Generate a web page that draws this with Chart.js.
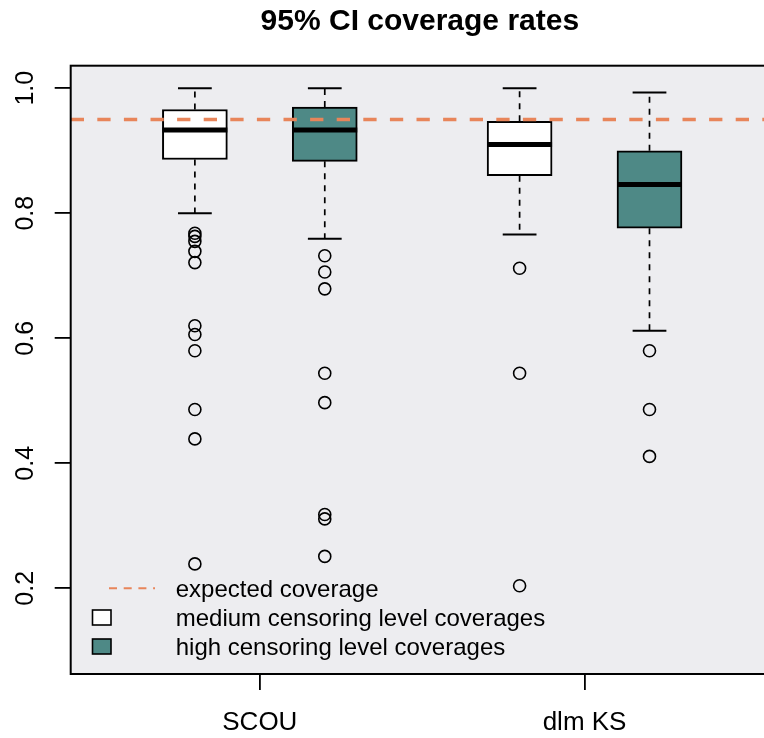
<!DOCTYPE html>
<html>
<head>
<meta charset="utf-8">
<title>95% CI coverage rates</title>
<script src="https://cdn.jsdelivr.net/npm/chart.js@4.4.1/dist/chart.umd.min.js"></script>
<style>
  html, body { margin: 0; padding: 0; background: #fff; overflow: hidden; }
  #wrap { position: relative; width: 780px; height: 738px; }
</style>
</head>
<body>
<div id="wrap"><canvas id="chart"></canvas></div>
<script>
// groups on the x axis and the two censoring levels inside each group
const groups = ['SCOU', 'dlm KS']
const levels = ['medium censoring level coverages', 'high censoring level coverages']

// box statistics, order: SCOU medium, SCOU high, dlm KS medium, dlm KS high
const lowerWhisker = [0.800, 0.759, 0.766, 0.612]
const lowerQuartile = [0.886, 0.883, 0.860, 0.776]
const medians = [0.933, 0.933, 0.910, 0.846]
const upperQuartile = [0.966, 0.970, 0.947, 0.900]
const upperWhisker = [1.000, 1.000, 1.000, 0.993]
const outliers = [
  [0.768, 0.763, 0.755, 0.739, 0.721, 0.620, 0.606, 0.580, 0.486, 0.439, 0.239],
  [0.732, 0.706, 0.679, 0.544, 0.497, 0.318, 0.311, 0.251],
  [0.712, 0.544, 0.204],
  [0.580, 0.486, 0.411]
]
const expectedCoverage = 0.95
const yTicks = [0.2, 0.4, 0.6, 0.8, 1.0]

const levelColors = ['#FFFFFF', '#4E8986']
const orange = '#E8855A'
const plotBg = '#EDEDF0'
const fontFamily = "'Liberation Sans', Arial, Helvetica, sans-serif"

// x positions: 1, 2 for the first group and 3.5, 4.5 for the second
const X_MIN = 0.044
const X_MAX = 5.42
const boxPos = []
const boxFill = []
groups.forEach((g, gi) => {
  levels.forEach((l, li) => {
    boxPos.push(1 + gi * 2.5 + li)
    boxFill.push(levelColors[li])
  })
})
const groupTicks = groups.map((g, gi) => 1.5 + gi * 2.5)

const boxData = boxPos.map((p, i) => ({ x: p, y: [lowerQuartile[i], upperQuartile[i]] }))
const outlierData = []
outliers.forEach((list, i) => {
  list.forEach(v => outlierData.push({ x: boxPos[i], y: v }))
})

const decor = {
  id: 'decor',
  beforeDraw(chart) {
    const { ctx, chartArea: a } = chart
    ctx.save()
    ctx.fillStyle = plotBg
    ctx.fillRect(a.left, a.top, a.right - a.left, a.bottom - a.top)
    ctx.restore()
  },
  afterDatasetDraw(chart, args) {
    if (args.index !== 2) return
    const { ctx } = chart
    const x = chart.scales.x
    const y = chart.scales.y
    ctx.save()
    ctx.strokeStyle = '#000'
    boxPos.forEach((p, i) => {
      const px = x.getPixelForValue(p)
      const cap = x.getPixelForValue(p + 0.13) - px
      const half = x.getPixelForValue(p + 0.25) - px
      // dashed whiskers
      ctx.lineWidth = 1.7
      ctx.setLineDash([6, 6])
      ctx.beginPath()
      ctx.moveTo(px, y.getPixelForValue(upperQuartile[i]))
      ctx.lineTo(px, y.getPixelForValue(upperWhisker[i]))
      ctx.moveTo(px, y.getPixelForValue(lowerQuartile[i]))
      ctx.lineTo(px, y.getPixelForValue(lowerWhisker[i]))
      ctx.stroke()
      // staples
      ctx.setLineDash([])
      ctx.lineWidth = 2
      ctx.beginPath()
      ctx.moveTo(px - cap, y.getPixelForValue(upperWhisker[i]))
      ctx.lineTo(px + cap, y.getPixelForValue(upperWhisker[i]))
      ctx.moveTo(px - cap, y.getPixelForValue(lowerWhisker[i]))
      ctx.lineTo(px + cap, y.getPixelForValue(lowerWhisker[i]))
      ctx.stroke()
      // median
      ctx.lineWidth = 5
      ctx.beginPath()
      ctx.moveTo(px - half, y.getPixelForValue(medians[i]))
      ctx.lineTo(px + half, y.getPixelForValue(medians[i]))
      ctx.stroke()
    })
    ctx.restore()
  },
  afterDraw(chart) {
    const { ctx, chartArea: a } = chart
    const y = chart.scales.y
    ctx.save()
    // plot frame
    ctx.strokeStyle = '#000'
    ctx.lineWidth = 2
    ctx.strokeRect(a.left, a.top, a.right - a.left, a.bottom - a.top)

    // y tick labels, rotated like R's las = 0
    ctx.fillStyle = '#000'
    ctx.font = '25px ' + fontFamily
    ctx.textAlign = 'center'
    ctx.textBaseline = 'alphabetic'
    yTicks.forEach(t => {
      ctx.save()
      ctx.translate(33, y.getPixelForValue(t))
      ctx.rotate(-Math.PI / 2)
      ctx.fillText(t.toFixed(1), 0, 0)
      ctx.restore()
    })

    // title
    ctx.font = 'bold 30px ' + fontFamily
    ctx.fillText('95% CI coverage rates', (a.left + a.right) / 2, 29.5)

    // legend
    ctx.textAlign = 'left'
    ctx.font = '24px ' + fontFamily
    ctx.strokeStyle = orange
    ctx.lineWidth = 2
    ctx.setLineDash([8, 6.7])
    ctx.beginPath()
    ctx.moveTo(109, 588.3)
    ctx.lineTo(155, 588.3)
    ctx.stroke()
    ctx.setLineDash([])
    ctx.fillText('expected coverage', 175.7, 596.6)
    levels.forEach((l, li) => {
      const cy = 617.5 + li * 29
      ctx.fillStyle = levelColors[li]
      ctx.fillRect(92.5, cy - 7.5, 18.5, 15)
      ctx.strokeStyle = '#000'
      ctx.lineWidth = 1.6
      ctx.strokeRect(92.5, cy - 7.5, 18.5, 15)
      ctx.fillStyle = '#000'
      ctx.fillText(l, 175.7, 625.6 + li * 29)
    })
    ctx.restore()
  }
}

Chart.defaults.font.family = fontFamily
Chart.defaults.color = '#000'

// eslint-disable-next-line no-unused-vars
const boxChart = new Chart(document.getElementById('chart'), {
  type: 'bar',
  data: {
    datasets: [
      {
        type: 'line',
        label: 'expected coverage',
        data: [{ x: X_MIN, y: expectedCoverage }, { x: X_MAX, y: expectedCoverage }],
        borderColor: orange,
        borderWidth: 3.6,
        borderDash: [13.3, 13.3],
        pointRadius: 0,
        fill: false,
        order: 0
      },
      {
        type: 'scatter',
        label: 'outliers',
        data: outlierData,
        pointStyle: 'circle',
        pointRadius: 6,
        pointBorderWidth: 1.6,
        borderColor: '#000',
        backgroundColor: 'rgba(0,0,0,0)',
        order: 1
      },
      {
        type: 'bar',
        label: 'boxes',
        data: boxData,
        backgroundColor: boxFill,
        borderColor: '#000',
        borderWidth: 2,
        borderSkipped: false,
        barThickness: 65,
        order: 2
      }
    ]
  },
  options: {
    responsive: true,
    maintainAspectRatio: false,
    animation: false,
    events: [],
    layout: { padding: { left: 0, top: 65.7, right: 11, bottom: 0 } },
    plugins: {
      legend: { display: false },
      title: { display: false },
      tooltip: { enabled: false }
    },
    scales: {
      x: {
        type: 'linear',
        min: X_MIN,
        max: X_MAX,
        offset: false,
        afterBuildTicks: s => { s.ticks = groupTicks.map(v => ({ value: v })) },
        afterFit: s => { s.height = 64 },
        grid: { drawOnChartArea: false, drawTicks: true, tickLength: 16, color: '#000', lineWidth: 1.8, offset: false },
        border: { display: false },
        ticks: {
          autoSkip: false,
          maxRotation: 0,
          padding: 17,
          font: { size: 26 },
          color: '#000',
          callback: (v, i) => groups[i]
        }
      },
      y: {
        type: 'linear',
        min: 0.0629,
        max: 1.036,
        beginAtZero: false,
        afterBuildTicks: s => { s.ticks = yTicks.map(v => ({ value: v })) },
        afterFit: s => { s.width = 70.7 },
        grid: { drawOnChartArea: false, drawTicks: true, tickLength: 16, color: '#000', lineWidth: 1.8 },
        border: { display: false },
        ticks: { display: false }
      }
    }
  },
  plugins: [decor]
})
</script>
</body>
</html>
